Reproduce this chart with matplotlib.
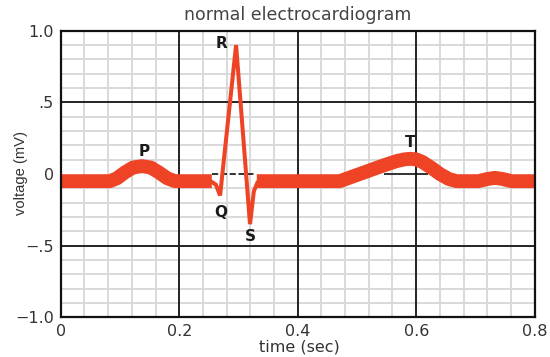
import matplotlib
matplotlib.use("Agg")
import matplotlib.pyplot as plt
from matplotlib.ticker import MultipleLocator

# ---- data ----
# thick trace: baseline + P wave
p_t = [0, 0.083, 0.095, 0.108, 0.122, 0.137, 0.152, 0.166, 0.180, 0.193, 0.255]
p_v = [-0.05, -0.05, -0.03, 0.01, 0.045, 0.055, 0.045, 0.01, -0.03, -0.05, -0.05]
# thin trace: QRS complex
qrs_t = [0.253, 0.262, 0.269, 0.296, 0.3195, 0.326, 0.333]
qrs_v = [-0.05, -0.075, -0.15, 0.90, -0.35, -0.12, -0.05]
# thick trace: ST segment, T wave, U wave
t_t = [0.331, 0.471, 0.51, 0.545, 0.567, 0.58, 0.59, 0.60, 0.61, 0.625,
       0.64, 0.655, 0.668, 0.705, 0.72, 0.733, 0.746, 0.761, 0.8]
t_v = [-0.05, -0.05, 0.008, 0.06, 0.09, 0.102, 0.106, 0.102, 0.085, 0.045,
       0.0, -0.035, -0.05, -0.05, -0.035, -0.027, -0.035, -0.05, -0.05]

wave_labels = ["P", "Q", "R", "S", "T"]
wave_label_t = [0.1406, 0.2706, 0.272, 0.3195, 0.5895]
wave_label_v = [0.159, -0.27, 0.913, -0.434, 0.222]

x_ticks = [0, 0.2, 0.4, 0.6, 0.8]
x_ticklabels = ["0", "0.2", "0.4", "0.6", "0.8"]
y_ticks = [1.0, 0.5, 0, -0.5, -1.0]
y_ticklabels = ["1.0", ".5", "0", "\u2212.5", "\u22121.0"]
x_major = [0.2, 0.4, 0.6]
y_major = [0.5, -0.5]
zero_marks = [(0.255, 0.33, "--"), (0.545, 0.62, "-")]

RED = "#ee4324"

fig = plt.figure(figsize=(5.5, 3.57), dpi=100)
ax = fig.add_axes([60.7 / 550, 1 - 317.3 / 357, 474 / 550, 286.6 / 357])
ax.set_xlim(0, 0.8)
ax.set_ylim(-1.0, 1.0)
ax.set_axisbelow(True)

# grid
ax.xaxis.set_minor_locator(MultipleLocator(0.04))
ax.yaxis.set_minor_locator(MultipleLocator(0.1))
ax.grid(which="minor", color="#d9d9d9", linewidth=1.4)
ax.grid(which="major", visible=False)
for xv in x_major:
    ax.axvline(xv, color="#222222", linewidth=1.4, zorder=2)
for yv in y_major:
    ax.axhline(yv, color="#222222", linewidth=1.4, zorder=2)
for x0, x1, ls in zero_marks:
    ax.hlines(0, x0, x1, colors="#111111", linewidth=1.2, linestyles=ls, zorder=2)

for s in ax.spines.values():
    s.set_linewidth(1.6)
    s.set_color("#111111")
    s.set_zorder(5)

# trace
ax.plot(p_t, p_v, color=RED, linewidth=10, solid_capstyle="butt",
        solid_joinstyle="round", zorder=3)
ax.plot(qrs_t, qrs_v, color=RED, linewidth=2.9, solid_joinstyle="miter",
        solid_capstyle="butt", zorder=3)
ax.plot(t_t, t_v, color=RED, linewidth=10, solid_capstyle="butt",
        solid_joinstyle="round", zorder=3)

for lab, tx, vy in zip(wave_labels, wave_label_t, wave_label_v):
    ax.text(tx, vy, lab, ha="center", va="center", fontsize=11,
            fontweight="bold", color="#1a1a1a", family="DejaVu Sans", zorder=4)

ax.set_xticks(x_ticks)
ax.set_xticklabels(x_ticklabels)
ax.set_yticks(y_ticks)
ax.set_yticklabels(y_ticklabels)
ax.tick_params(which="both", length=0)
ax.tick_params(axis="x", pad=5, labelsize=11.5, labelcolor="#333333")
ax.tick_params(axis="y", pad=5, labelsize=11.5, labelcolor="#333333")
for lbl in ax.get_xticklabels() + ax.get_yticklabels():
    lbl.set_family("DejaVu Sans")

fig.text(297.7 / 550, 1 - 15 / 357, "normal electrocardiogram", ha="center",
         va="center", fontsize=12.5, color="#444444", family="DejaVu Sans")
fig.text(299 / 550, 1 - 347 / 357, "time (sec)", ha="center", va="center",
         fontsize=11.5, color="#333333", family="DejaVu Sans")
fig.text(21 / 550, 1 - 173.3 / 357, "voltage (mV)", ha="center", va="center",
         rotation=90, fontsize=10.6, color="#333333", family="Liberation Sans")

fig.savefig("out.png", dpi=100)
